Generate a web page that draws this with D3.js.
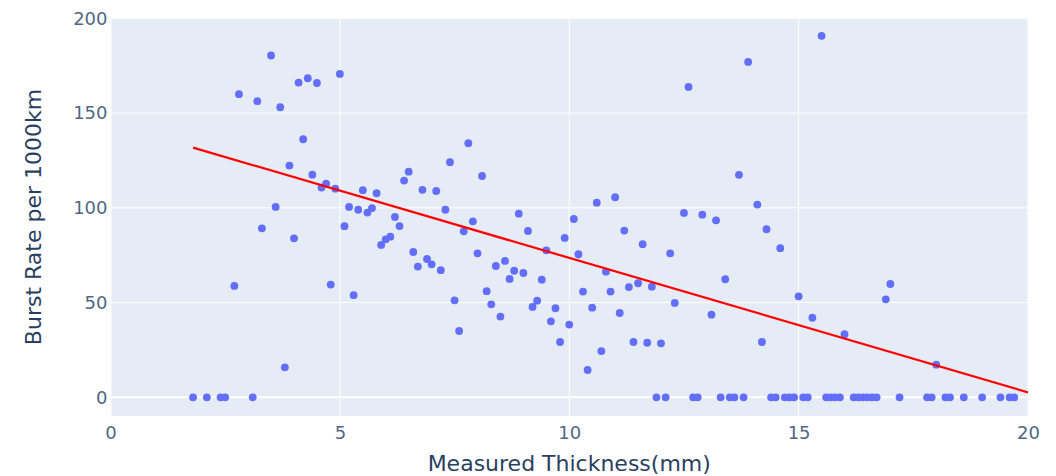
<!DOCTYPE html>
<html>
<head>
<meta charset="utf-8">
<script src="https://cdn.jsdelivr.net/npm/d3@7"></script>
<style>
  body { margin: 0; background: #fff; }
  svg { display: block; font-family: "DejaVu Sans", verdana, arial, sans-serif; }
</style>
</head>
<body>
<script>
// measured thickness (mm) of each pipe section
var thickness = [
  1.8, 2.1, 2.4, 2.5, 3.1,
  2.7, 2.8, 3.2, 3.3, 3.5, 3.6, 3.7, 3.8, 3.9, 4.0, 4.1, 4.2, 4.3, 4.4, 4.5, 4.6, 4.7, 4.8, 4.9,
  5.0, 5.1, 5.2, 5.3, 5.4, 5.5, 5.6, 5.7, 5.8, 5.9, 6.0, 6.1, 6.2, 6.3, 6.4, 6.5, 6.6, 6.7, 6.8, 6.9,
  7.0, 7.1, 7.2, 7.3, 7.4, 7.5, 7.6, 7.7, 7.8, 7.9, 8.0, 8.1, 8.2, 8.3, 8.4, 8.5, 8.6, 8.7, 8.8, 8.9,
  9.0, 9.1, 9.2, 9.3, 9.4, 9.5, 9.6, 9.7, 9.8, 9.9, 10.0, 10.1, 10.2, 10.3, 10.4, 10.5, 10.6, 10.7, 10.8, 10.9,
  11.0, 11.1, 11.2, 11.3, 11.4, 11.5, 11.6, 11.7, 11.8, 12.0, 12.2, 12.3, 12.5, 12.6, 12.9,
  13.1, 13.2, 13.4, 13.7, 13.9, 14.1, 14.2, 14.3, 14.6, 15.0, 15.3, 15.5, 16.0, 16.9, 17.0, 18.0,
  11.9, 12.1, 12.7, 12.8, 13.3, 13.5, 13.6, 13.8, 14.4, 14.5, 14.7, 14.8, 14.9, 15.1, 15.2,
  15.6, 15.7, 15.8, 15.9, 16.2, 16.3, 16.4, 16.5, 16.6, 16.7, 17.2, 17.8, 17.9, 18.2, 18.3,
  18.6, 19.0, 19.4, 19.6, 19.7
];
// burst rate per 1000km, same order
var burstRate = [
  0, 0, 0, 0, 0,
  58.8, 160, 156.3, 89.2, 180.4, 100.5, 153.1, 15.8, 122.3, 83.9, 166.1, 136.2, 168.4, 117.5, 165.9, 110.7, 112.8, 59.5, 110.1,
  170.7, 90.3, 100.5, 53.9, 99.0, 109.3, 97.5, 99.9, 107.7, 80.4, 83.4, 84.8, 95.2, 90.4, 114.4, 119.1, 76.7, 69.0, 109.5, 73.0,
  70.2, 108.9, 67.1, 99.0, 124.1, 51.2, 35.0, 87.6, 134.1, 92.9, 76.0, 116.8, 56.0, 49.1, 69.3, 42.6, 72.0, 62.5, 66.8, 96.9,
  65.6, 87.8, 47.7, 51.0, 62.1, 77.6, 40.1, 47.0, 29.2, 84.1, 38.4, 94.1, 75.5, 55.8, 14.4, 47.3, 102.7, 24.4, 66.3, 55.8,
  105.6, 44.5, 88.0, 58.2, 29.2, 60.2, 80.8, 28.8, 58.4, 28.5, 76.0, 49.8, 97.3, 163.8, 96.4,
  43.6, 93.4, 62.3, 117.4, 177.0, 101.7, 29.2, 88.7, 78.7, 53.3, 42.0, 190.8, 33.3, 51.7, 59.8, 17.2,
  0, 0, 0, 0, 0, 0, 0, 0, 0, 0, 0, 0, 0, 0, 0,
  0, 0, 0, 0, 0, 0, 0, 0, 0, 0, 0, 0, 0, 0, 0,
  0, 0, 0, 0, 0
];
// ols trendline end points
var trendX = [1.8, 20];
var trendY = [131.8, 2.6];

var xTicks = [0, 5, 10, 15, 20];
var yTicks = [0, 50, 100, 150, 200];

var data = thickness.map(function(d, i){ return {x: d, y: burstRate[i]}; });
var trend = trendX.map(function(d, i){ return {x: d, y: trendY[i]}; });

var width = 1056, height = 476;
var margin = {left: 110.5, right: 28, top: 18, bottom: 60};

var x = d3.scaleLinear().domain([0, 20]).range([margin.left, width - margin.right]);
var y = d3.scaleLinear().domain([-9.87, 200.2]).range([height - margin.bottom, margin.top]);

var svg = d3.select("body").append("svg").attr("width", width).attr("height", height);

// plot background
svg.append("rect")
  .attr("x", x.range()[0]).attr("y", y.range()[1])
  .attr("width", x.range()[1] - x.range()[0])
  .attr("height", y.range()[0] - y.range()[1])
  .attr("fill", "#e5ecf6");

// grid lines
svg.append("g").selectAll("line").data(xTicks).join("line")
  .attr("x1", function(d){ return x(d); }).attr("x2", function(d){ return x(d); })
  .attr("y1", y.range()[0]).attr("y2", y.range()[1])
  .attr("stroke", "#fff").attr("stroke-width", function(d){ return d === 0 ? 2 : 1; });
svg.append("g").selectAll("line").data(yTicks).join("line")
  .attr("x1", x.range()[0]).attr("x2", x.range()[1])
  .attr("y1", function(d){ return y(d); }).attr("y2", function(d){ return y(d); })
  .attr("stroke", "#fff").attr("stroke-width", function(d){ return d === 0 ? 2 : 1; });

// axes (labels only)
var xAxis = d3.axisBottom(x).tickValues(xTicks).tickSize(0).tickPadding(10);
var yAxis = d3.axisLeft(y).tickValues(yTicks).tickSize(0).tickPadding(3);

var gx = svg.append("g").attr("transform", "translate(0," + y.range()[0] + ")").call(xAxis);
var gy = svg.append("g").attr("transform", "translate(" + x.range()[0] + ",0)").call(yAxis);
[gx, gy].forEach(function(g){
  g.select(".domain").remove();
  g.selectAll("text").attr("fill", "#506784").style("font-size", "18px")
    .style("font-family", "'DejaVu Sans', verdana, arial, sans-serif");
});

// points and trendline, clipped to the plot area
svg.append("clipPath").attr("id", "plotclip").append("rect")
  .attr("x", x.range()[0]).attr("y", y.range()[1])
  .attr("width", x.range()[1] - x.range()[0])
  .attr("height", y.range()[0] - y.range()[1]);

var plot = svg.append("g").attr("clip-path", "url(#plotclip)");

plot.append("g").selectAll("circle").data(data).join("circle")
  .attr("cx", function(d){ return x(d.x); })
  .attr("cy", function(d){ return y(d.y); })
  .attr("r", 3.9)
  .attr("fill", "#636efa");

var line = d3.line()
  .x(function(d){ return x(d.x); })
  .y(function(d){ return y(d.y); });

plot.append("path").attr("d", line(trend))
  .attr("fill", "none").attr("stroke", "red").attr("stroke-width", 2.2);

// axis titles
svg.append("text")
  .attr("x", (x.range()[0] + x.range()[1]) / 2).attr("y", 471)
  .attr("text-anchor", "middle")
  .attr("fill", "#2a3f5f").style("font-size", "22px")
  .text("Measured Thickness(mm)");

svg.append("text")
  .attr("transform", "translate(41," + (y.range()[0] + y.range()[1]) / 2 + ") rotate(-90)")
  .attr("text-anchor", "middle")
  .attr("fill", "#2a3f5f").style("font-size", "22px")
  .text("Burst Rate per 1000km");
</script>
</body>
</html>
